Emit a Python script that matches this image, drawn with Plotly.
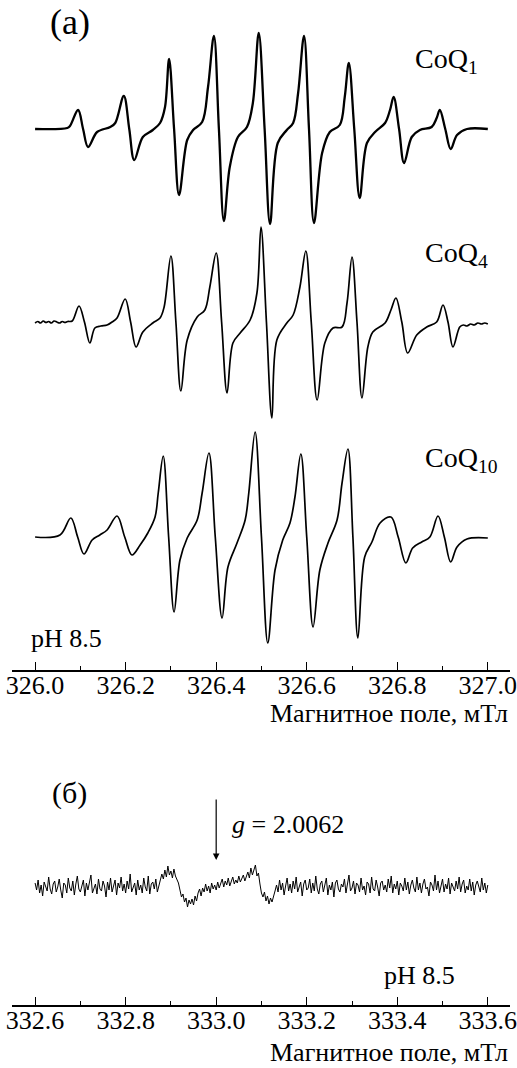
import numpy as np
import plotly.graph_objects as go

# ---------------- data ----------------
coq1_field = [326.000, 326.071, 326.077, 326.095, 326.106, 326.117, 326.137, 326.166, 326.177,
              326.196, 326.208, 326.219, 326.238, 326.260, 326.276, 326.287, 326.296, 326.307,
              326.318, 326.336, 326.349, 326.369, 326.382, 326.395, 326.406, 326.417, 326.430,
              326.448, 326.468, 326.481, 326.494, 326.507, 326.519, 326.536, 326.556, 326.570,
              326.581, 326.594, 326.605, 326.616, 326.634, 326.651, 326.673, 326.684, 326.693,
              326.705, 326.717, 326.733, 326.751, 326.773, 326.784, 326.792, 326.804, 326.815,
              326.832, 326.850, 326.876, 326.887, 326.894, 326.906, 326.918, 326.932, 326.954,
              327.000]
coq1_signal = [0, 1, 3, 19, 0, -18, -3, 2, 6,
               33, 0, -31, -8, -1, 6, 22, 70, 0,
               -66, -11, -1, 7, 42, 93, 0, -92, -38,
               -8, 2, 26, 96, 0, -95, -14, -1, 6,
               36, 93, 0, -94, -24, -3, 4, 32, 66,
               0, -69, -14, -3, 6, 19, 32, 0, -34,
               -8, -1, 2, 11, 19, 0, -20, -6, 0,
               0]

coq4_field = [326.000, 326.006, 326.012, 326.018, 326.024, 326.030, 326.036, 326.042, 326.048,
              326.054, 326.060, 326.066, 326.072, 326.082,
              326.097, 326.109, 326.121, 326.132, 326.145, 326.159, 326.170, 326.181, 326.199,
              326.211, 326.223, 326.238, 326.260, 326.276, 326.285, 326.300, 326.311, 326.322,
              326.336, 326.358, 326.375, 326.386, 326.400, 326.412, 326.424, 326.437, 326.453,
              326.475, 326.490, 326.499, 326.511, 326.523, 326.534, 326.556, 326.570, 326.585,
              326.598, 326.610, 326.623, 326.640, 326.658, 326.678, 326.689, 326.700, 326.711,
              326.722, 326.735, 326.746, 326.773, 326.786, 326.797, 326.810, 326.823, 326.843,
              326.865, 326.887, 326.901, 326.912, 326.923, 326.938, 326.946, 326.954, 326.962,
              326.970, 326.978, 326.986, 326.993, 327.000]
coq4_signal = [-1, 0.5, -1, 1, -0.5, 0.5, -1, 1, 0, -1, 0.5, -0.5, 0.5, 1,
               16, 0, -21, -6, -4, -3, 0, 4, 23,
               0, -25, -10, -1, 4, 15, 66, 0, -69,
               -18, 5, 12, 35, 69, 0, -71, -21, -11,
               2, 29, 95, 0, -96, -18, -1, 7, 35,
               71, 0, -78, -21, -6, -5, 19, 65, 0,
               -76, -25, -10, -1, 12, 24, 0, -31, -13,
               -5, 0, 17, 0, -25, -5, -3, -4, -2,
               -3, -1, -2, -1, -2]

coq10_field = [326.000, 326.055, 326.079, 326.094, 326.108, 326.126, 326.143, 326.159, 326.181,
               326.198, 326.214, 326.232, 326.249, 326.265, 326.272, 326.283, 326.295, 326.307,
               326.320, 326.336, 326.358, 326.369, 326.384, 326.398, 326.413, 326.426, 326.446,
               326.464, 326.472, 326.486, 326.500, 326.514, 326.530, 326.547, 326.563, 326.574,
               326.587, 326.600, 326.614, 326.629, 326.647, 326.667, 326.678, 326.691, 326.702,
               326.713, 326.728, 326.744, 326.762, 326.786, 326.802, 326.819, 326.834, 326.854,
               326.872, 326.890, 326.904, 326.918, 326.932, 326.954, 327.000]
coq10_signal = [0, 2, 19, 0, -17, -3, 2, 7, 21,
                0, -18, -8, 4, 20, 44, 81, 0, -75,
                -23, -1, 17, 44, 84, 0, -81, -30, -6,
                17, 44, 105, 0, -106, -33, -3, 14, 40,
                83, 0, -90, -33, -6, 17, 54, 88, 0,
                -101, -20, -5, 14, 20, 0, -26, -11, -5,
                0, 21, 0, -25, -10, -2, -1]

# panel (б): recorded trace over 332.6 ... 333.6 mT (uniform sampling)
signal_b = [4, -3, 7, -6, 2, -9, 5, 1, -4, 10, -2, -7, 3, 6, -5, 0, 8, -3, -11, 4,
            2, -6, 9, -1, -4, 6, -8, 3, 11, -2, -5, 1, 7, -9, 4, -3, 5, 12, -6, 0,
            3, -7, 8, -2, -4, 6, 1, -10, 5, -3, 9, -5, 2, 7, -8, 4, -1, 10, -4, 3,
            -6, 6, -2, 13, -5, 1, 4, -8, 7, -3, 2, -6, 9, 0, -4, 11, -7, 3, 5, -2,
            8, -5, 2,
            6, 13, 8, 17, 10, 21, 12, 16, 9, 18, 11, 7, 4,
            -3, -10, -7, -15, -11, -20, -13, -17, -12, -18, -9, -14,
            -6, -2, -9, -1, -5, 3, -4, 1, -6, 4, -2, 2, -3,
            5, -1, 3, 8, 0, 6, 2, 9, 1, 5, 10, 3, 7, 4, 11, 5, 8, 12, 6, 10,
            15, 9, 19, 12, 17, 22, 11, 14,
            3, -6, -10, -5, -14, -9, -17, -11, -15, -8, -4,
            2, -5, 7, -3, 4, -8, 1, 9, -4, 3, -6, 6, -2, 10, -5, 0, 5, -9, 3, 7,
            -3, -1, 8, -6, 4, -4, 11, -2, -7, 3, 6, -5, 1, 9, -8, 2, -3, 5, -10, 4,
            7, -2, -5, 3, 0, 8, -6, 2, 12, -4, -1, 6, -7, 4, 2, -5, 9, -3, 1, -8,
            5, 3, -6, 10, -2, -4, 7, 0, -9, 4, 6, -3, 2, -5, 8, -1, 11, -6, 3, -2,
            6, -8, 4, 1, -4, 9, -3, 5, -7, 2, 7, -1, -5, 10, -3, 4, -6, 3, 8, -2,
            0, -9, 5, 2, -4, 12, -3, 6, -6, 1, 8, -5, 3, -2, 9, -7, 4, 0, -4, 6,
            -2, 10, -5, 3, 7, -6, 1, -3, 8, -4, 5, -8, 2, 6, -1, -5, 9, -3, 4, -6,
            2]
field_b_start, field_b_end = 332.6, 333.6

ticks_a = [326.0, 326.2, 326.4, 326.6, 326.8, 327.0]
ticks_b = [332.6, 332.8, 333.0, 333.2, 333.4, 333.6]
labels = ["CoQ<sub>1</sub>", "CoQ<sub>4</sub>", "CoQ<sub>10</sub>"]

# ---------------- layout ----------------
W, H = 517, 1068
offsets = [-129, -322, -537]   # vertical stacking of the three spectra
widths = [2.3, 1.7, 1.7]
FONT = "Liberation Serif, Times New Roman, serif"

fig = go.Figure()
for fld, sig, off, lw in zip([coq1_field, coq4_field, coq10_field],
                             [coq1_signal, coq4_signal, coq10_signal], offsets, widths):
    fig.add_trace(go.Scatter(x=fld, y=np.array(sig) + off, mode="lines",
                             line=dict(color="black", width=lw, shape="spline", smoothing=1.0),
                             xaxis="x", yaxis="y", showlegend=False, hoverinfo="skip"))

field_b = np.linspace(field_b_start, field_b_end, len(signal_b))
fig.add_trace(go.Scatter(x=field_b, y=np.array(signal_b) - 887, mode="lines",
                         line=dict(color="black", width=1.0),
                         xaxis="x2", yaxis="y2", showlegend=False, hoverinfo="skip"))

def xaxis_cfg(rng, ticks, anchor):
    return dict(domain=[12 / W, 510 / W], range=rng, anchor=anchor,
                automargin=False,
                showline=True, linecolor="black", linewidth=1.5,
                ticks="inside", ticklen=8, tickwidth=1.2, tickcolor="black",
                tickvals=ticks, ticktext=[f"{t:.1f}" for t in ticks],
                ticklabelstandoff=-9, ticklabeloverflow="allow",
                minor=dict(dtick=0.1, tick0=ticks[0], ticks="inside", ticklen=4,
                           tickwidth=1.2, tickcolor="black", showgrid=False),
                showgrid=False, zeroline=False,
                tickfont=dict(family=FONT, size=26, color="black"))

fig.update_layout(
    width=W, height=H, margin=dict(l=0, r=0, t=0, b=0, autoexpand=False),
    paper_bgcolor="white", plot_bgcolor="white",
    xaxis=xaxis_cfg([325.949, 327.049], ticks_a, "y"),
    yaxis=dict(domain=[1 - 670 / H, 1], range=[-670, 0], visible=False, automargin=False),
    xaxis2=xaxis_cfg([332.549, 333.649], ticks_b, "y2"),
    yaxis2=dict(domain=[1 - 1005 / H, 1 - 760 / H], range=[-1005, -760],
                visible=False, automargin=False),
)

def txt(x, y, s, size, xanchor="center", xref="x", yref="y"):
    fig.add_annotation(x=x, y=y, text=s, showarrow=False, xref=xref, yref=yref,
                       xanchor=xanchor, yanchor="middle",
                       font=dict(family=FONT, size=size, color="black"))

# panel (a) texts
txt(326.077, -22, "(a)", 36)
txt(326.834, -60, labels[0], 28, xanchor="left")
txt(326.856, -254, labels[1], 28, xanchor="left")
txt(326.856, -459, labels[2], 28, xanchor="left")
txt(325.986, -638, "pH 8.5", 26, xanchor="left")
txt(510 / W, 1 - 713 / H, "Магнитное поле, мТл", 26,
    xanchor="right", xref="paper", yref="paper")

# panel (б) texts
txt(332.676, -793, "(б)", 30, xref="x2", yref="y2")
txt(333.031, -824, "<i>g</i> = 2.0062", 26, xanchor="left", xref="x2", yref="y2")
txt(333.366, -975, "pH 8.5", 26, xanchor="left", xref="x2", yref="y2")
txt(510 / W, 1 - 1052 / H, "Магнитное поле, мТл", 26,
    xanchor="right", xref="paper", yref="paper")

# arrow marking g = 2.0062
fig.add_annotation(x=333.0, y=-860, xref="x2", yref="y2", ax=0, ay=-62, text="",
                   showarrow=True, arrowhead=2, arrowsize=1.1, arrowwidth=1.2, arrowcolor="black")

# the page itself should add no margin around the 517 x 1068 figure
fig.write_html("out.html",
               config={"displayModeBar": False},
               post_script="document.body.style.margin='0';document.body.style.overflow='hidden';")
